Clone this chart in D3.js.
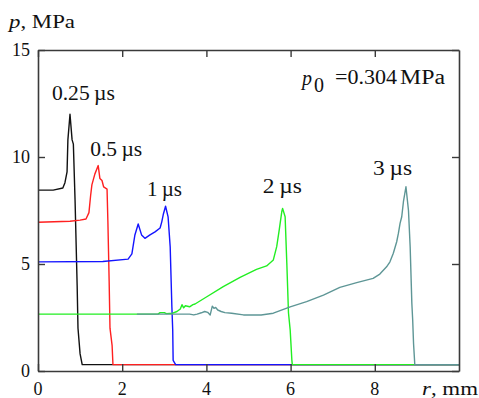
<!DOCTYPE html>
<html>
<head>
<meta charset="utf-8">
<script src="https://cdn.jsdelivr.net/npm/d3@7"></script>
<style>
  body { margin: 0; background: #fff; }
  svg text { font-family: "Liberation Serif", "Times New Roman", serif; fill: #111; }
</style>
</head>
<body>
<div id="chart"></div>
<script>

// pressure profiles p(r) at several times after the start, r in mm, p in MPa
var r025 = [0, 0.36, 0.59, 0.64, 0.69, 0.71, 0.76, 0.81, 0.84, 0.88, 0.93, 0.95, 1.0, 1.05, 10];
var p025 = [8.45, 8.45, 8.55, 8.8, 9.3, 10.8, 12.0, 10.8, 10.6, 8.0, 4.0, 2.0, 0.8, 0.3, 0.3];

var r05 = [0, 0.76, 1.0, 1.14, 1.21, 1.25, 1.28, 1.35, 1.43, 1.47, 1.52, 1.56, 1.64, 1.66, 1.675, 1.69, 1.71, 1.76, 1.78, 10];
var p05 = [6.95, 7.0, 7.05, 7.1, 7.4, 8.2, 8.7, 9.2, 9.6, 9.0, 8.9, 8.6, 8.5, 7.0, 5.6, 4.2, 2.0, 1.2, 0.3, 0.3];

var r1 = [0, 1.54, 2.14, 2.23, 2.30, 2.38, 2.46, 2.54, 2.66, 2.78, 2.90, 2.94, 2.98, 3.03, 3.09, 3.14, 3.18, 3.20, 3.21, 3.27, 10];
var p1 = [5.1, 5.12, 5.23, 5.47, 6.34, 6.87, 6.36, 6.2, 6.36, 6.5, 6.68, 6.97, 7.35, 7.7, 7.2, 5.8, 3.0, 1.9, 0.5, 0.3, 0.3];

var r2 = [0, 2.85, 2.9, 3.0, 3.05, 3.2, 3.3, 3.38, 3.42, 3.46, 3.5, 3.6, 3.68, 3.73, 4.01, 4.40, 4.80, 5.19, 5.43, 5.59, 5.67, 5.73, 5.79, 5.81, 5.87, 5.91, 5.95, 5.99, 6.03, 6.04, 10];
var p2 = [2.66, 2.66, 2.73, 2.73, 2.68, 2.7, 2.78, 2.9, 3.1, 2.95, 3.05, 3.0, 3.1, 3.13, 3.47, 3.94, 4.38, 4.75, 4.91, 5.19, 5.81, 6.59, 7.44, 7.6, 7.21, 5.05, 2.71, 1.92, 0.51, 0.3, 0.3];

var r3 = [2.35, 3.6, 3.7, 3.78, 3.88, 3.96, 4.03, 4.09, 4.14, 4.18, 4.22, 4.27, 4.35, 4.44, 4.6, 4.88, 5.3, 5.59, 5.99, 6.38, 6.78, 7.17, 7.57, 7.96, 8.12, 8.28, 8.36, 8.44, 8.52, 8.56, 8.6, 8.64, 8.68, 8.74, 8.8, 8.84, 8.88, 8.9, 8.92, 8.95, 10];
var p3 = [2.66, 2.66, 2.62, 2.66, 2.72, 2.78, 2.74, 2.62, 3.03, 2.93, 2.97, 2.85, 2.78, 2.73, 2.7, 2.62, 2.62, 2.70, 3.0, 3.24, 3.55, 3.91, 4.13, 4.33, 4.53, 4.87, 5.1, 5.5, 6.04, 6.43, 6.9, 7.21, 7.91, 8.61, 7.5, 5.81, 3.16, 2.38, 1.3, 0.3, 0.3];

var xTicks = [0, 2, 4, 6, 8];
var yTicks = [0, 5, 10, 15];

var W = 479, H = 398;
var plotL = 38, plotT = 50, plotR = 459, plotB = 371;

var svg = d3.select("#chart").append("svg")
    .attr("width", W)
    .attr("height", H);

var x = d3.scaleLinear().domain([0, 10]).range([plotL, plotR]);
var y = d3.scaleLinear().domain([0, 15]).range([plotB, plotT]);

svg.append("clipPath").attr("id", "plotclip")
    .append("rect")
    .attr("x", plotL).attr("y", plotT)
    .attr("width", plotR - plotL).attr("height", plotB - plotT);

var curves = [
    { r: r025, p: p025, color: "#111111" },
    { r: r05, p: p05, color: "#ff2020" },
    { r: r1, p: p1, color: "#1414ff" },
    { r: r2, p: p2, color: "#22ee22" },
    { r: r3, p: p3, color: "#5e9696" }
];

var line = d3.line()
    .x(function (d) { return x(d[0]); })
    .y(function (d) { return y(d[1]); });

var g = svg.append("g").attr("clip-path", "url(#plotclip)");
curves.forEach(function (c) {
    var pts = c.r.map(function (v, i) { return [v, c.p[i]]; });
    g.append("path")
        .datum(pts)
        .attr("d", line)
        .attr("fill", "none")
        .attr("stroke", c.color)
        .attr("stroke-width", 1.4)
        .attr("stroke-linejoin", "round");
});

// frame with inward ticks on all four sides
var axisColor = "#3a3a3a";
svg.append("g").attr("transform", "translate(0," + plotB + ")")
    .call(d3.axisBottom(x).tickValues(xTicks).tickSizeInner(-7).tickSizeOuter(0).tickFormat(""));
svg.append("g").attr("transform", "translate(0," + plotT + ")")
    .call(d3.axisTop(x).tickValues(xTicks).tickSizeInner(-7).tickSizeOuter(0).tickFormat(""));
svg.append("g").attr("transform", "translate(" + plotL + ",0)")
    .call(d3.axisLeft(y).tickValues(yTicks).tickSizeInner(-7).tickSizeOuter(0).tickFormat(""));
svg.append("g").attr("transform", "translate(" + plotR + ",0)")
    .call(d3.axisRight(y).tickValues(yTicks).tickSizeInner(-7).tickSizeOuter(0).tickFormat(""));

svg.selectAll(".domain").attr("stroke", axisColor).attr("stroke-width", 1.6);
svg.selectAll(".tick line").attr("stroke", axisColor).attr("stroke-width", 1.4);

// tick labels
svg.selectAll(".xlab").data(xTicks).enter().append("text")
    .attr("x", function (d) { return x(d); })
    .attr("y", 395)
    .attr("text-anchor", "middle")
    .style("font-size", "18px")
    .text(function (d) { return d; });

svg.selectAll(".ylab").data(yTicks).enter().append("text")
    .attr("x", 30)
    .attr("y", function (d) { return y(d) + 6; })
    .attr("text-anchor", "end")
    .style("font-size", "18px")
    .text(function (d) { return d; });

// axis titles
var yt = svg.append("text").attr("x", 9).attr("y", 28).style("font-size", "19px")
    .attr("textLength", 66).attr("lengthAdjust", "spacingAndGlyphs");
yt.append("tspan").style("font-style", "italic").text("p");
yt.append("tspan").text(", MPa");

var xt = svg.append("text").attr("x", 422).attr("y", 395).style("font-size", "19px")
    .attr("textLength", 56).attr("lengthAdjust", "spacingAndGlyphs");
xt.append("tspan").style("font-style", "italic").text("r");
xt.append("tspan").text(", mm");

// p0 note
svg.append("text").attr("x", 302).attr("y", 85).style("font-size", "20px")
    .style("font-style", "italic").text("p");
svg.append("text").attr("x", 314).attr("y", 92).style("font-size", "20px").text("0");
svg.append("text").attr("x", 335).attr("y", 84).style("font-size", "20px")
    .attr("textLength", 62).attr("lengthAdjust", "spacingAndGlyphs").text("=0.304");
svg.append("text").attr("x", 400).attr("y", 84).style("font-size", "20px")
    .attr("textLength", 45).attr("lengthAdjust", "spacingAndGlyphs").text("MPa");

// time labels over each profile
var timeLabels = [
    { t: "0.25", r: 0.33, p: 12.66, w: 63 },
    { t: "0.5", r: 1.24, p: 10.05, w: 52 },
    { t: "1", r: 2.59, p: 8.18, w: 35 },
    { t: "2", r: 5.34, p: 8.32, w: 39 },
    { t: "3", r: 7.96, p: 9.16, w: 39 }
];
timeLabels.forEach(function (d) {
    svg.append("text")
        .attr("x", x(d.r))
        .attr("y", y(d.p))
        .style("font-size", "20px")
        .attr("textLength", d.w)
        .attr("lengthAdjust", "spacingAndGlyphs")
        .text(d.t + "\u2009\u00b5s");
});

</script>
</body>
</html>
